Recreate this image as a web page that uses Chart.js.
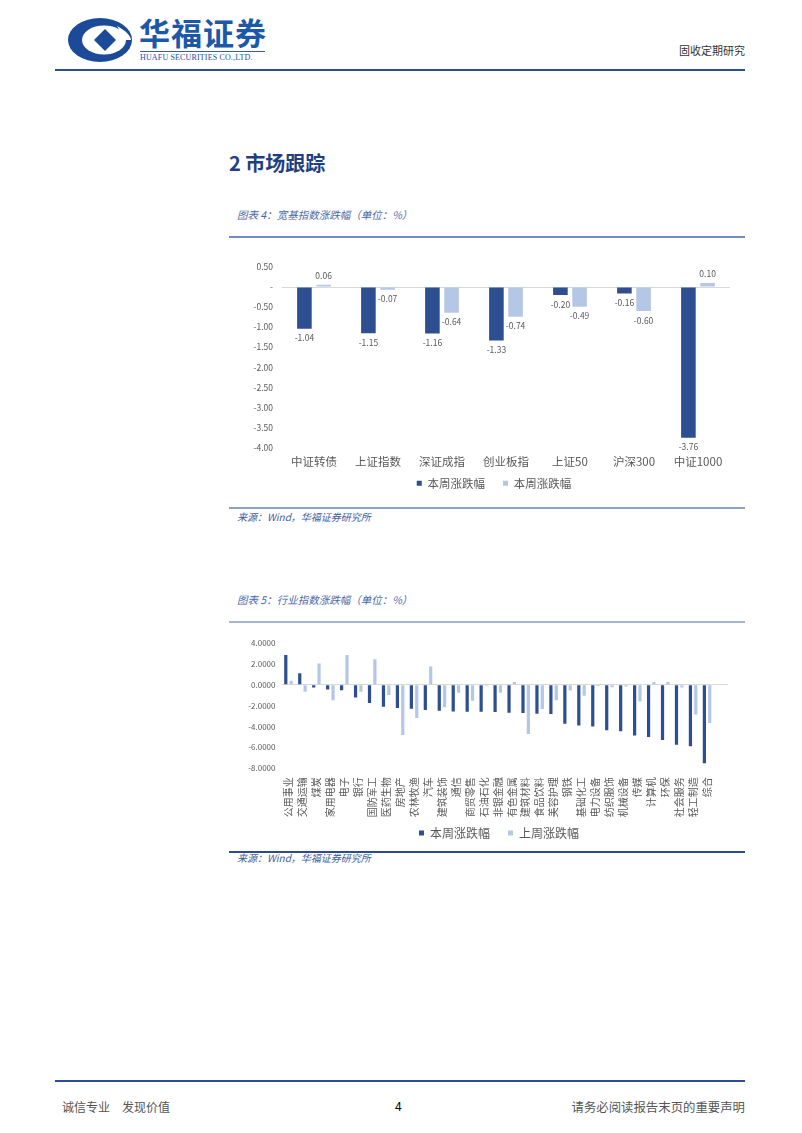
<!DOCTYPE html>
<html>
<head>
<meta charset="utf-8">
<script src="https://cdn.jsdelivr.net/npm/chart.js@4.4.1/dist/chart.umd.min.js"></script>
<style>
  body { margin: 0; background: #fff; }
  #page { position: relative; width: 802px; height: 1133px; overflow: hidden; background: #fff;
          font-family: "Noto Sans CJK SC", "Noto Sans", sans-serif; }
  .abs { position: absolute; }
  .cap { font-style: italic; color: #4A69A8; font-size: 10.5px; line-height: 14px; white-space: nowrap; }
  .src { font-style: italic; color: #3E5C9C; font-size: 10px; line-height: 12px; white-space: nowrap; }
</style>
</head>
<body>
<div id="page">
  <!-- header -->
  <svg class="abs" style="left:67px;top:17px;" width="70" height="48" viewBox="0 0 70 48">
    <ellipse cx="33" cy="23" rx="32" ry="22" fill="#1B4A98"/>
    <ellipse cx="37" cy="23" rx="22" ry="14.5" fill="#ffffff"/>
    <path d="M38 12 L49 23 L38 34 L27 23 Z" fill="#1B4A98"/>
    <path d="M50 9 C60 14 64 20 64 23 L55 23 C55 18 53 14 50 9 Z" fill="#ffffff"/>
  </svg>
  <div class="abs" style="left:139px;top:12px;font-size:31px;font-weight:700;color:#1D57A8;letter-spacing:1px;line-height:40px;white-space:nowrap;">华福证券</div>
  <div class="abs" style="left:140px;top:51px;width:125px;height:1px;background:#3A5FA8;"></div>
  <div class="abs" style="left:140px;top:53px;font-family:'Liberation Serif',serif;font-size:8px;line-height:10px;color:#1D4E9E;white-space:nowrap;letter-spacing:0.15px;">HUAFU SECURITIES CO.,LTD.</div>
  <div class="abs" style="right:57px;top:43px;font-size:11px;line-height:15px;color:#333;white-space:nowrap;">固收定期研究</div>
  <div class="abs" style="left:55px;top:69px;width:690px;height:2px;background:#2B4E92;"></div>

  <!-- section title -->
  <div class="abs" style="left:229px;top:150px;font-size:20px;font-weight:700;color:#1F3F82;line-height:26px;white-space:nowrap;">2 市场跟踪</div>

  <!-- figure 4 -->
  <div class="abs cap" style="left:237px;top:208px;">图表 4：宽基指数涨跌幅（单位：%）</div>
  <div class="abs" style="left:229px;top:236px;width:516px;height:2px;background:#6F8CC4;"></div>
  <div class="abs" style="left:230px;top:250px;width:520px;height:249px;"><canvas id="c1"></canvas></div>
  <div class="abs" style="left:229px;top:507px;width:516px;height:2px;background:#8FA3C9;"></div>
  <div class="abs src" style="left:237px;top:511px;">来源：Wind，华福证券研究所</div>

  <!-- figure 5 -->
  <div class="abs cap" style="left:237px;top:593px;">图表 5：行业指数涨跌幅（单位：%）</div>
  <div class="abs" style="left:229px;top:621px;width:516px;height:2px;background:#A7B5CE;"></div>
  <div class="abs" style="left:230px;top:630px;width:520px;height:219px;"><canvas id="c2"></canvas></div>
  <div class="abs" style="left:229px;top:851px;width:516px;height:2px;background:#2E4A8C;"></div>
  <div class="abs src" style="left:237px;top:852px;">来源：Wind，华福证券研究所</div>

  <!-- footer -->
  <div class="abs" style="left:55px;top:1080px;width:690px;height:2px;background:#2B4E92;"></div>
  <div class="abs" style="left:62px;top:1099px;font-size:12px;line-height:16px;color:#555;white-space:nowrap;">诚信专业　发现价值</div>
  <div class="abs" style="left:395px;top:1098px;font-size:12px;line-height:16px;color:#000;">4</div>
  <div class="abs" style="right:57px;top:1099px;font-size:12.4px;line-height:16px;color:#555;white-space:nowrap;">请务必阅读报告末页的重要声明</div>
</div>

<script>
// ---------- Chart 1 data: broad-based indices ----------
const categories1 = ['中证转债', '上证指数', '深证成指', '创业板指', '上证50', '沪深300', '中证1000'];
const thisWeek1 = [-1.04, -1.15, -1.16, -1.33, -0.20, -0.16, -3.76];
const lastWeek1 = [0.06, -0.07, -0.64, -0.74, -0.49, -0.60, 0.10];
const seriesNames1 = ['本周涨跌幅', '本周涨跌幅'];

// ---------- Chart 2 data: industry indices ----------
const categories2 = ['公用事业', '交通运输', '煤炭', '家用电器', '电子', '银行', '国防军工', '医药生物',
  '房地产', '农林牧渔', '汽车', '建筑装饰', '通信', '商贸零售', '石油石化', '非银金融', '有色金属',
  '建筑材料', '食品饮料', '美容护理', '钢铁', '基础化工', '电力设备', '纺织服饰', '机械设备', '传媒',
  '计算机', '环保', '社会服务', '轻工制造', '综合', ''];
const thisWeek2 = [2.84, 1.10, -0.26, -0.45, -0.52, -1.23, -1.74, -2.10, -2.23, -2.29, -2.42, -2.48,
  -2.55, -2.58, -2.58, -2.61, -2.68, -2.71, -2.77, -2.81, -3.74, -3.90, -4.00, -4.35, -4.45, -4.87,
  -5.00, -5.29, -5.74, -5.90, -7.52, null];
const lastWeek2 = [0.39, -0.68, 2.03, -1.48, 2.84, -0.68, 2.45, -0.97, -4.81, -3.19, 1.74, -2.16,
  -0.77, -1.52, -0.10, -0.77, 0.26, -4.71, -2.32, -1.48, -0.55, -1.06, -0.13, -0.23, -0.16, -1.61,
  0.26, 0.26, -0.26, -2.84, -3.65, null];
const seriesNames2 = ['本周涨跌幅', '上周涨跌幅'];

const DARK = '#2D4F92';
const LIGHT = '#B4C7E7';
const TXT = '#595959';
const FONT = "'Noto Sans CJK SC', 'Noto Sans', sans-serif";

const barValueLabels = {
  id: 'barValueLabels',
  afterDatasetsDraw(chart, args, opts) {
    const ctx = chart.ctx;
    ctx.save();
    ctx.font = opts.font;
    ctx.fillStyle = opts.color;
    ctx.textAlign = 'center';
    chart.data.datasets.forEach((ds, i) => {
      const meta = chart.getDatasetMeta(i);
      meta.data.forEach((el, j) => {
        const v = ds.data[j];
        if (v === null || v === undefined) return;
        if (v >= 0) { ctx.textBaseline = 'bottom'; ctx.fillText(v.toFixed(2), el.x, el.y - opts.offset); }
        else { ctx.textBaseline = 'top'; ctx.fillText(v.toFixed(2), el.x, el.y + opts.offset); }
      });
    });
    ctx.restore();
  }
};

// nudges the legend row horizontally (Chart.js centres it slightly left of the box centre)
const legendShift = {
  id: 'legendShift',
  beforeDraw(chart, args, opts) {
    const lg = chart.legend;
    if (lg && opts.dx && !lg._shifted) { lg.left += opts.dx; lg.right += opts.dx; lg._shifted = true; }
  }
};

const zeroLine = (ctx) => (ctx.tick && ctx.tick.value === 0) ? '#D9D9D9' : 'rgba(0,0,0,0)';
const noLabelClip = (s) => { s._computeLabelArea = () => null; };

new Chart(document.getElementById('c1'), {
  type: 'bar',
  data: {
    labels: categories1,
    datasets: [
      { label: seriesNames1[0], data: thisWeek1, backgroundColor: DARK, categoryPercentage: 0.6, barPercentage: 0.76 },
      { label: seriesNames1[1], data: lastWeek1, backgroundColor: LIGHT, categoryPercentage: 0.6, barPercentage: 0.76 }
    ]
  },
  plugins: [barValueLabels, legendShift],
  options: {
    responsive: true, maintainAspectRatio: false, animation: false, devicePixelRatio: 1,
    layout: { padding: { top: 17, right: 20, bottom: 0, left: 0 } },
    plugins: {
      tooltip: { enabled: false },
      barValueLabels: { font: "8.5px " + FONT, color: TXT, offset: 5 },
      legendShift: { dx: 14 },
      legend: {
        position: 'bottom',
        labels: { boxWidth: 5, boxHeight: 5, padding: 18, color: TXT, font: { family: FONT, size: 11.5 } }
      }
    },
    scales: {
      x: {
        grid: { display: false, drawTicks: false },
        border: { display: false },
        ticks: { color: TXT, font: { family: FONT, size: 11.5 }, padding: 7, autoSkip: false, maxRotation: 0, minRotation: 0 },
        afterFit: (s) => { s.height = 12; noLabelClip(s); }
      },
      y: {
        min: -4, max: 0.5,
        grid: { color: zeroLine, drawTicks: false, lineWidth: 1 },
        border: { display: false },
        ticks: {
          stepSize: 0.5, color: TXT, font: { family: FONT, size: 8.5 }, padding: 9,
          callback: (v) => Math.abs(v) < 1e-9 ? '-' : Number(v).toFixed(2)
        },
        afterFit: (s) => { s.width = 52; }
      }
    }
  }
});

new Chart(document.getElementById('c2'), {
  type: 'bar',
  data: {
    labels: categories2,
    datasets: [
      { label: seriesNames2[0], data: thisWeek2, backgroundColor: DARK, categoryPercentage: 0.77, barPercentage: 0.6 },
      { label: seriesNames2[1], data: lastWeek2, backgroundColor: LIGHT, categoryPercentage: 0.77, barPercentage: 0.6 }
    ]
  },
  plugins: [legendShift],
  options: {
    responsive: true, maintainAspectRatio: false, animation: false, devicePixelRatio: 1,
    layout: { padding: { top: 13, right: 22, bottom: 0, left: 0 } },
    plugins: {
      tooltip: { enabled: false },
      legendShift: { dx: 20 },
      legend: {
        position: 'bottom',
        labels: { boxWidth: 5, boxHeight: 5, padding: 18, color: TXT, font: { family: FONT, size: 12 } }
      }
    },
    scales: {
      x: {
        grid: { display: false, drawTicks: false },
        border: { display: false },
        ticks: { color: TXT, font: { family: FONT, size: 10 }, padding: 9, autoSkip: false, maxRotation: 90, minRotation: 90 },
        afterFit: (s) => { s.height = 40.7; noLabelClip(s); }
      },
      y: {
        min: -8, max: 4,
        grid: { color: zeroLine, drawTicks: false, lineWidth: 1 },
        border: { display: false },
        ticks: {
          stepSize: 2, color: TXT, font: { family: FONT, size: 8 }, padding: 6,
          callback: (v) => Number(v).toFixed(4)
        },
        afterFit: (s) => { s.width = 51.5; }
      }
    }
  }
});
</script>
</body>
</html>
